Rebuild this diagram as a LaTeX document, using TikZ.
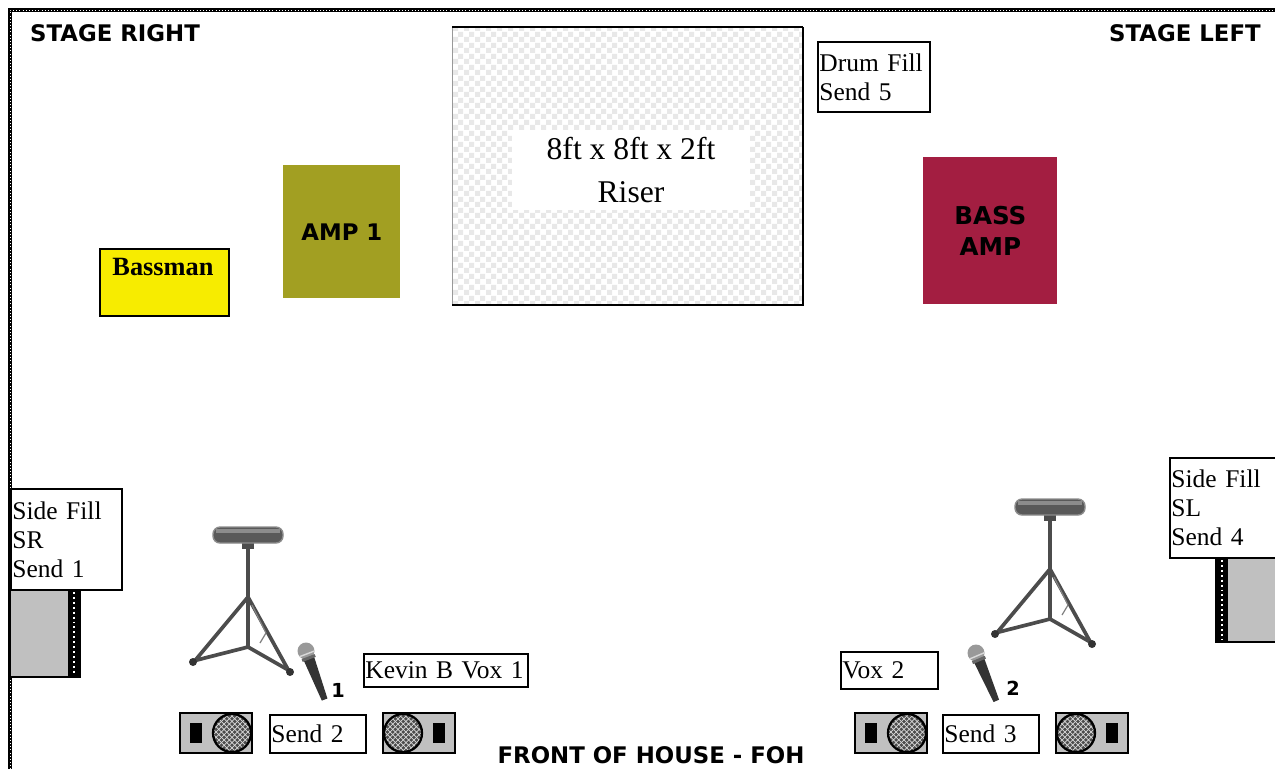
\documentclass[tikz,border=0pt]{standalone}
\usepackage{fontspec}
\setmainfont{Liberation Serif}
\newfontfamily\platefont{DejaVu Sans}
\usetikzlibrary{patterns}
\definecolor{bassmanyellow}{RGB}{247,236,0}
\definecolor{ampolive}{RGB}{162,159,34}
\definecolor{bassampred}{RGB}{163,30,65}
\definecolor{fillgray}{RGB}{192,192,192}
\pgfdeclarepatternformonly{finechecker}{\pgfpointorigin}{\pgfpoint{6pt}{6pt}}{\pgfpoint{6pt}{6pt}}{%
  \pgfpathrectangle{\pgfpointorigin}{\pgfpoint{3pt}{3pt}}%
  \pgfpathrectangle{\pgfpoint{3pt}{3pt}}{\pgfpoint{3pt}{3pt}}%
  \pgfusepath{fill}}
\tikzset{%
  sendbox/.style={rectangle, draw=black, line width=1.1pt, fill=white, anchor=north west,
    inner xsep=0.03cm, inner ysep=0pt, align=left, font=\fontsize{14.5}{16.5}\selectfont},
  ampbox/.style={rectangle, anchor=north west, inner sep=0pt, align=center,
    font=\platefont\bfseries\fontsize{13}{17.5}\selectfont},
  platelabel/.style={inner sep=0pt, font=\platefont\bfseries\fontsize{13}{14}\selectfont},
  stageedge/.style={draw=black, line width=1.8pt},
  stoolline/.style={draw=black!70, line width=2.1pt},
}
\newcommand{\wedgemon}[2]{%
  \begin{scope}[shift={#1}, xscale=#2]
    \fill[fillgray] (0,0) rectangle (72,40);
    \draw[black, line width=0.6pt] (0,0) rectangle (72,40);
    \draw[black, line width=1.2pt, dash pattern=on 0.6pt off 0.6pt] (0,0) -- (72,0) (0,40) -- (72,40);
    \fill[black] (10,10) rectangle (22,30);
    \fill[black!70] (52,20) circle (19);
    \fill[pattern=crosshatch, pattern color=white!85!black] (52,20) circle (19);
    \draw[black, line width=1.3pt] (52,20) circle (19);
  \end{scope}
}
\newcommand{\drumstool}[1]{%
  \begin{scope}[shift={#1}]
    \draw[stoolline] (0,62) -- (-55,128) (0,62) -- (42,138);
    \draw[stoolline] (0,112) -- (-55,126) (0,112) -- (42,136);
    \draw[stoolline] (0,8) -- (0,112);
    \draw[black!50, line width=0.7pt] (4,70) -- (18,98) -- (12,108);
    \fill[black!80] (-55,127) circle (4) (42,137) circle (4);
    \fill[black!70] (-6,7) rectangle (6,14);
    \draw[fill=black!65, draw=black!45, line width=0.8pt, rounded corners=4pt] (-35,-8) rectangle (35,8);
    \fill[black!45] (-32,-6) rectangle (32,-2);
  \end{scope}
}
\newcommand{\handmic}[2]{%
  \begin{scope}[shift={#1}, rotate=#2]
    \fill[black!80] (-5.5,8) -- (5.5,8) -- (3,52) -- (-3,52) -- cycle;
    \fill[black!40] (0,0) circle (8.5);
    \draw[black!15, line width=0.8pt] (-8,3) -- (8,3);
    \fill[black!60] (-7,6) rectangle (7,9);
  \end{scope}
}

\begin{document}
\begin{tikzpicture}[x=0.02cm, y=-0.02cm]
  \useasboundingbox (0,0) rectangle (1275,769);
  % stage edge
  \draw[stageedge] (10,769) -- (10,10) -- (1275,10);
  \draw[white, line width=0.5pt, dash pattern=on 0.4pt off 1.4pt] (10,769) -- (10,10) -- (1275,10);
  \node[platelabel] (stageright) at (115,33) {STAGE RIGHT};
  \node[platelabel] (stageleft) at (1185,33) {STAGE LEFT};
  \node[platelabel] (foh) at (651,755) {FRONT OF HOUSE - FOH};

  % drum riser
  \path[pattern=finechecker, pattern color=black!9] (452,27) rectangle (803,305);
  \draw[black!40, line width=0.5pt] (452,305) -- (452,27);
  \draw[black, line width=0.8pt] (452,27) -- (803,27);
  \draw[stageedge, line width=1.2pt] (803,27) -- (803,305) -- (452,305);
  \node[fill=white, minimum width=4.76cm, minimum height=1.6cm, inner sep=0pt, align=center,
    font=\fontsize{18}{24}\selectfont] (riser) at (631,170) {8ft x 8ft x 2ft\\Riser};
  \node[sendbox, text width=2.18cm, minimum height=1.4cm] (drumfill) at (817,41) {Drum Fill\\Send 5};

  % amps
  \node[rectangle, draw=black, line width=1.2pt, fill=bassmanyellow, anchor=north west,
    minimum width=2.58cm, minimum height=1.34cm] (bassman) at (99,248) {};
  \node[inner sep=0pt, font=\bfseries\fontsize{15}{16}\selectfont] (bassmanlabel) at (163,267) {Bassman};
  \node[ampbox, fill=ampolive, minimum width=2.34cm, minimum height=2.66cm] (amp1) at (283,165) {AMP 1};
  \node[ampbox, fill=bassampred, minimum width=2.68cm, minimum height=2.94cm,
    font=\platefont\bfseries\fontsize{14}{17.5}\selectfont] (bassamp) at (923,157) {BASS\\AMP};

  % side fills
  \fill[fillgray] (10,589) rectangle (68,677);
  \draw[black, line width=0.6pt] (10,589) rectangle (80,677);
  \fill[black] (68,589) rectangle (80,677);
  \draw[white, line width=1.6pt, dash pattern=on 1.1pt off 1.7pt] (74,592) -- (74,675);
  \node[sendbox, text width=2.16cm, minimum height=2.02cm] (sidefillsr) at (10,488) {Side Fill\\SR\\Send 1};
  \fill[fillgray] (1228,557) rectangle (1280,642);
  \draw[black, line width=0.6pt] (1216,557) rectangle (1280,642);
  \fill[black] (1216,557) rectangle (1228,642);
  \draw[white, line width=1.6pt, dash pattern=on 1.1pt off 1.7pt] (1222,560) -- (1222,640);
  \node[sendbox, text width=2.38cm, minimum height=2.0cm] (sidefillsl) at (1169,457) {Side Fill\\SL\\Send 4};

  % stools and mics
  \drumstool{(248,535)}
  \drumstool{(1050,507)}
  \handmic{(306,651)}{21}
  \handmic{(976,653)}{23}
  \node[inner sep=0pt, font=\platefont\bfseries\fontsize{11}{12}\selectfont] (mic1) at (338,690) {1};
  \node[inner sep=0pt, font=\platefont\bfseries\fontsize{11}{12}\selectfont] (mic2) at (1013,688) {2};
  \node[sendbox, text width=3.22cm, minimum height=0.66cm] (kevinvox) at (363,653) {Kevin B Vox 1};
  \node[sendbox, text width=1.88cm, minimum height=0.74cm] (vox2) at (840,651) {Vox 2};

  % wedges
  \wedgemon{(180,713)}{1}
  \wedgemon{(455,713)}{-1}
  \wedgemon{(855,713)}{1}
  \wedgemon{(1128,713)}{-1}
  \node[sendbox, text width=1.86cm, minimum height=0.76cm] (send2) at (269,714) {Send 2};
  \node[sendbox, text width=1.86cm, minimum height=0.76cm] (send3) at (942,714) {Send 3};
\end{tikzpicture}
\end{document}
